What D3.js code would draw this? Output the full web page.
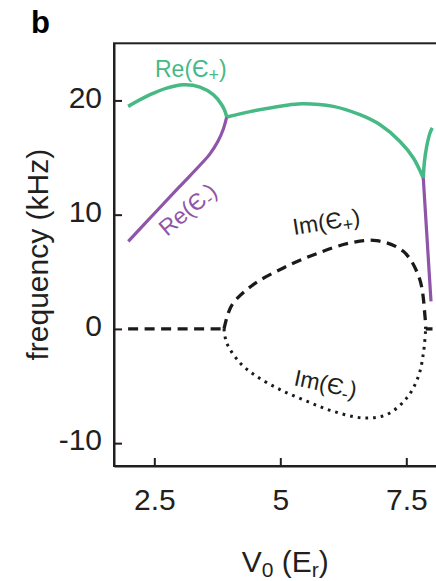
<!DOCTYPE html>
<html lang="en">
	<head>
		<meta charset="utf-8">
		<title>Re / Im of eigenfrequencies vs V0</title>
		<script type="text/javascript" src="https://cdn.jsdelivr.net/npm/d3@7/dist/d3.min.js"></script>
		<style type="text/css">
			body { margin: 0; background: #fff; }
			svg { font-family: "Liberation Sans", Arial, Helvetica, sans-serif; }
		</style>
	</head>
	<body>
		<script type="text/javascript">

			//Width and height
			var w = 436;
			var h = 581;

			//Data: [V0 (Er), frequency (kHz)]
			var rePlusLow  = [[1.98,19.48],[2.415,20.5],[2.746,21.08],[3.075,21.37],[3.407,21.17],[3.67,20.5],[3.837,19.62],[3.903,19.04],[3.937,18.55]];
			var rePlusMid  = [[3.937,18.55],[4.4,19.02],[5.06,19.54],[5.425,19.71],[6.05,19.48],[6.58,18.75],[6.98,17.87],[7.375,16.41],[7.64,14.96],[7.837,13.21]];
			var rePlusHigh = [[7.837,13.21],[7.857,14.52],[7.905,15.98],[7.97,17.15],[8.016,17.59]];

			var reMinusLow  = [[1.984,7.66],[2.5,10.1],[3.0,12.45],[3.4,14.3],[3.6,15.3],[3.76,16.4],[3.87,17.5],[3.937,18.55]];
			var reMinusHigh = [[7.837,13.21],[7.905,8.4],[7.99,2.41]];

			var imPlusFlat = [[1.98,0],[3.883,0]];
			var imPlusLoop = [[3.883,0],[3.968,1.4],[4.067,2.27],[4.464,3.88],[5.06,5.34],[5.722,6.59],[6.383,7.52],[6.913,7.73],[7.44,6.79],[7.758,4.46],[7.871,1.1],[7.885,0]];
			var imPlusTail = [[7.885,0],[8.02,0]];

			var imMinusLoop = [[3.883,0],[3.936,-1.22],[4.2,-2.97],[4.53,-4.15],[4.994,-5.31],[5.524,-6.33],[6.05,-7.21],[6.647,-7.79],[7.11,-7.5],[7.51,-6.04],[7.74,-4.15],[7.84,-2.1],[7.885,0]];

			var xTicks = [2.5, 5, 7.5];
			var xTickLabels = ["2.5", "5", "7.5"];
			var yTicks = [-10, 0, 10, 20];
			var yTickLabels = ["-10", "0", "10", "20"];

			var green = "#46b985";
			var purple = "#8e55a9";
			var ink = "#231f20";

			//Scales
			var xScale = d3.scaleLinear().domain([1.7, 8.5]).range([114, 456.7]);
			var yScale = d3.scaleLinear().domain([-12, 25]).range([466, 43.3]);

			//Create SVG element
			var svg = d3.select("body")
						.append("svg")
						.attr("width", w)
						.attr("height", h);

			var line = d3.line()
						 .x(function(d) { return xScale(d[0]); })
						 .y(function(d) { return yScale(d[1]); })
						 .curve(d3.curveCatmullRom.alpha(0.5));

			//Frame (top line; right side falls outside the picture)
			svg.append("rect")
			   .attr("x", xScale.range()[0])
			   .attr("y", yScale.range()[1])
			   .attr("width", xScale.range()[1] - xScale.range()[0])
			   .attr("height", yScale.range()[0] - yScale.range()[1])
			   .attr("fill", "none")
			   .attr("stroke", ink)
			   .attr("stroke-width", 2);

			//Axes, ticks pointing inward
			var xAxis = d3.axisBottom(xScale)
						  .tickValues(xTicks)
						  .tickFormat(function(d, i) { return xTickLabels[i]; })
						  .tickSizeInner(-8)
						  .tickSizeOuter(0)
						  .tickPadding(23);

			var yAxis = d3.axisLeft(yScale)
						  .tickValues(yTicks)
						  .tickFormat(function(d, i) { return yTickLabels[i]; })
						  .tickSizeInner(-8)
						  .tickSizeOuter(0)
						  .tickPadding(12);

			var gx = svg.append("g")
			   .attr("transform", "translate(0," + yScale.range()[0] + ")")
			   .call(xAxis);

			var gy = svg.append("g")
			   .attr("transform", "translate(" + xScale.range()[0] + ",0)")
			   .call(yAxis);

			[gx, gy].forEach(function(g) {
				g.select(".domain").attr("stroke", ink).attr("stroke-width", 2);
				g.selectAll(".tick line").attr("stroke", ink).attr("stroke-width", 2);
				g.selectAll(".tick text")
				 .attr("fill", ink)
				 .style("font-size", "30px")
				 .style("font-family", "'Liberation Sans', Arial, Helvetica, sans-serif");
			});
			gy.selectAll(".tick text").attr("dy", "0.22em");

			//Im curves
			svg.append("path")
			   .attr("d", line(imMinusLoop))
			   .attr("fill", "none")
			   .attr("stroke", "#1a1a1a")
			   .attr("stroke-width", 3)
			   .attr("stroke-dasharray", "2.7,5");

			[imPlusFlat, imPlusLoop, imPlusTail].forEach(function(seg) {
				svg.append("path")
				   .attr("d", line(seg))
				   .attr("fill", "none")
				   .attr("stroke", "#1a1a1a")
				   .attr("stroke-width", 3.3)
				   .attr("stroke-dasharray", "10,6.5");
			});

			//Re curves
			[reMinusLow, reMinusHigh].forEach(function(seg) {
				svg.append("path")
				   .attr("d", line(seg))
				   .attr("fill", "none")
				   .attr("stroke", purple)
				   .attr("stroke-width", 3.2);
			});

			[rePlusLow, rePlusMid, rePlusHigh].forEach(function(seg) {
				svg.append("path")
				   .attr("d", line(seg))
				   .attr("fill", "none")
				   .attr("stroke", green)
				   .attr("stroke-width", 3.5);
			});

			//Curve labels
			function curveLabel(x, y, angle, head, sub, color) {
				var t = svg.append("text")
						   .attr("transform", "translate(" + x + "," + y + ") rotate(" + angle + ")")
						   .attr("fill", color)
						   .style("font-size", "23px");
				t.append("tspan").text(head);
				t.append("tspan").attr("dy", 4).style("font-size", "18px").text(sub);
				t.append("tspan").attr("dy", -4).text(")");
			}

			curveLabel(155, 76.5, 0, "Re(\u0404", "+", green);
			curveLabel(167, 237, -40, "Re(\u0404", "-", purple);
			curveLabel(294, 235, -9, "Im(\u0404", "+", ink);
			curveLabel(293, 385, 12, "Im(\u0404", "-", ink);

			//Panel letter
			svg.append("text")
			   .attr("x", 31)
			   .attr("y", 33)
			   .attr("fill", "#000")
			   .style("font-size", "31px")
			   .style("font-weight", "bold")
			   .text("b");

			//Axis titles
			var xt = svg.append("text")
			   .attr("x", (xScale.range()[0] + xScale.range()[1]) / 2)
			   .attr("y", 572)
			   .attr("text-anchor", "middle")
			   .attr("fill", ink)
			   .style("font-size", "30px");
			xt.append("tspan").text("V");
			xt.append("tspan").attr("dy", 5).style("font-size", "21px").text("0");
			xt.append("tspan").attr("dy", -5).text(" (E");
			xt.append("tspan").attr("dy", 5).style("font-size", "21px").text("r");
			xt.append("tspan").attr("dy", -5).text(")");

			svg.append("text")
			   .attr("transform", "translate(48," + ((yScale.range()[0] + yScale.range()[1]) / 2) + ") rotate(-90)")
			   .attr("text-anchor", "middle")
			   .attr("fill", ink)
			   .style("font-size", "30px")
			   .text("frequency (kHz)");

		</script>
	</body>
</html>
